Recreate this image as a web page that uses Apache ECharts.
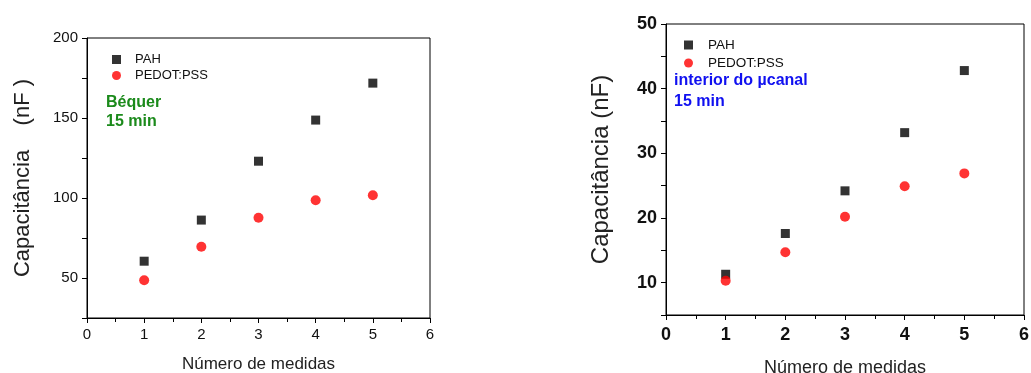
<!DOCTYPE html>
<html>
<head>
<meta charset="utf-8">
<script src="https://cdn.jsdelivr.net/npm/echarts@6/dist/echarts.min.js"></script>
<style>
  html, body { margin: 0; padding: 0; background: #fff; }
  #main { width: 1031px; height: 373px; }
</style>
</head>
<body>
<div id="main"></div>
<script>
// medidas (eixo x)
var medidas = [1, 2, 3, 4, 5];
// Béquer 15 min
var pahBequer = [60.5, 86.2, 123, 148.7, 171.8];
var pedotBequer = [48.6, 69.5, 87.7, 98.6, 101.7];
// interior do µcanal 15 min
var pahCanal = [11.3, 17.6, 24.2, 33.2, 42.8];
var pedotCanal = [10.3, 14.7, 20.2, 24.9, 26.9];

function pares(xs, ys) {
    var out = [];
    for (var i = 0; i < xs.length; i++) out.push([xs[i], ys[i]]);
    return out;
}

var chart = echarts.init(document.getElementById('main'));

function eixoX(idx, bold, size, gap, nsize, margin) {
    return {
        type: 'value', gridIndex: idx, min: 0, max: 6, interval: 1,
        name: 'Número de medidas', nameLocation: 'middle', nameGap: gap,
        nameTextStyle: { color: '#222', fontSize: nsize, fontFamily: 'Liberation Sans' },
        axisLine: { lineStyle: { color: '#000', width: 1 } },
        axisTick: { inside: false, length: 5, lineStyle: { color: '#000' } },
        minorTick: { show: true, splitNumber: 2, length: 4, lineStyle: { color: '#000' } },
        axisLabel: { color: '#111', fontSize: size, fontWeight: bold ? 'bold' : 'normal', fontFamily: 'Liberation Sans', margin: margin },
        splitLine: { show: false }
    };
}

function eixoY(idx, min, max, step, nome, gap, bold, size, nsize, margin) {
    return {
        type: 'value', gridIndex: idx, min: min, max: max, interval: step,
        name: nome, nameLocation: 'middle', nameGap: gap,
        nameTextStyle: { color: '#222', fontSize: nsize, fontFamily: 'Liberation Sans' },
        axisLine: { show: true, lineStyle: { color: '#000', width: 1 } },
        axisTick: { inside: false, length: 5, lineStyle: { color: '#000' } },
        axisLabel: {
            color: '#111', fontSize: size, fontWeight: bold ? 'bold' : 'normal', fontFamily: 'Liberation Sans', margin: margin,
            formatter: function (v) { return (v % (step * 2) === 0) ? v : ''; }
        },
        splitLine: { show: false }
    };
}

var option = {
    backgroundColor: '#fff',
    animation: false,
    grid: [
        { left: 87, top: 38, width: 343, height: 280, show: true, borderColor: '#000', borderWidth: 1,
          containLabel: false, outerBoundsMode: 'none' },
        { left: 666, top: 24, width: 358, height: 291, show: true, borderColor: '#000', borderWidth: 1,
          containLabel: false, outerBoundsMode: 'none' }
    ],
    xAxis: [eixoX(0, false, 15, 38, 17, 9), eixoX(1, true, 18, 44, 18, 11)],
    yAxis: [
        eixoY(0, 25, 200, 25, 'Capacitância    (nF )', 53, false, 15, 22, 9),
        eixoY(1, 5, 50, 5, 'Capacitância (nF)', 53, true, 18, 24, 9)
    ],
    legend: [
        {
            orient: 'vertical', left: 112, top: 53, padding: 0, itemGap: 3, itemWidth: 9, itemHeight: 9,
            textStyle: { color: '#111', fontSize: 13, fontFamily: 'Liberation Sans', padding: [0, 0, 0, 9] },
            data: [{ name: 'PAH', icon: 'rect' }, { name: 'PEDOT:PSS', icon: 'circle' }],
            selectedMode: false
        },
        {
            orient: 'vertical', left: 684, top: 38, padding: 0, itemGap: 4, itemWidth: 9, itemHeight: 9,
            textStyle: { color: '#111', fontSize: 13.5, fontFamily: 'Liberation Sans', padding: [0, 0, 0, 10] },
            data: [{ name: 'PAH', icon: 'rect' }, { name: 'PEDOT:PSS', icon: 'circle' }],
            selectedMode: false
        }
    ],
    graphic: [
        { type: 'text', left: 106, top: 93, style: { text: 'Béquer\n15 min', fill: '#1b8a1b', font: 'bold 16px "Liberation Sans"', lineHeight: 19 } },
        { type: 'text', left: 674, top: 70, style: { text: 'interior do µcanal\n15 min', fill: '#1010f0', font: 'bold 16px "Liberation Sans"', lineHeight: 21 } }
    ],
    series: [
        { name: 'PAH', type: 'scatter', xAxisIndex: 0, yAxisIndex: 0, symbol: 'rect', symbolSize: 9,
          itemStyle: { color: '#000' }, data: pares(medidas, pahBequer) },
        { name: 'PEDOT:PSS', type: 'scatter', xAxisIndex: 0, yAxisIndex: 0, symbol: 'circle', symbolSize: 10,
          itemStyle: { color: '#ff0000' }, data: pares(medidas, pedotBequer) },
        { name: 'PAH', type: 'scatter', xAxisIndex: 1, yAxisIndex: 1, symbol: 'rect', symbolSize: 9,
          itemStyle: { color: '#000' }, data: pares(medidas, pahCanal) },
        { name: 'PEDOT:PSS', type: 'scatter', xAxisIndex: 1, yAxisIndex: 1, symbol: 'circle', symbolSize: 10,
          itemStyle: { color: '#ff0000' }, data: pares(medidas, pedotCanal) }
    ]
};

chart.setOption(option);
</script>
</body>
</html>
